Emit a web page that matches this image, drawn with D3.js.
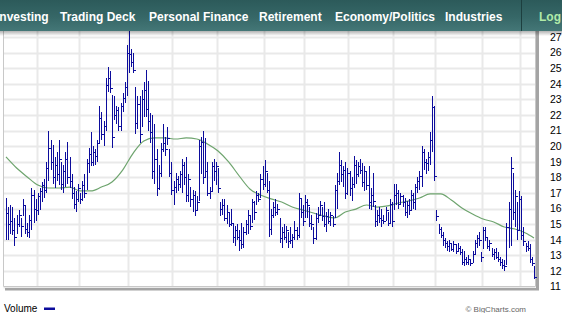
<!DOCTYPE html>
<meta charset="utf-8">
<style>

body {
  margin: 0;
  background: #fff;
}

svg {
  display: block;
  font-family: "Liberation Sans", Arial, sans-serif;
}

.nav text {
  fill: #fff;
  font-size: 12px;
  font-weight: bold;
}

.y-axis text {
  font-size: 10.5px;
  fill: #000;
}

</style>
<svg class="chart"></svg>
<script src="https://cdn.jsdelivr.net/npm/d3@7/dist/d3.min.js"></script>
<script>

// daily bars, one value per trading day
var high = [
  16.7,16.1,16.2,16.1,15.4,15.6,15.9,15.4,16.6,16.2,
  15.1,15.6,17.3,17.2,16.6,17.0,17.3,17.7,17.9,19.0,
  21.0,20.4,20.1,19.3,19.6,20.4,19.0,18.8,19.6,20.3,
  19.3,18.2,17.4,17.1,17.6,17.0,17.8,18.2,19.2,19.9,
  20.9,20.0,19.8,20.4,22.6,22.2,21.6,24.4,25.1,24.8,
  23.3,23.2,22.6,22.5,22.8,23.4,24.1,26.5,27.4,26.2,
  26.0,23.8,23.2,23.2,23.6,24.1,24.9,24.2,22.1,22.0,
  21.4,19.8,18.8,20.2,21.4,20.6,21.2,19.8,19.0,17.8,
  18.3,18.1,18.4,19.2,19.0,19.3,18.2,17.4,17.2,17.1,
  16.8,20.4,20.6,21.0,20.5,19.0,17.4,19.0,19.2,19.0,
  18.6,16.4,16.6,16.6,16.2,15.8,16.0,15.1,14.9,15.0,
  14.6,15.1,14.8,15.3,15.9,15.5,16.6,16.5,17.1,17.0,
  18.2,18.7,19.1,18.3,17.8,16.0,16.4,16.6,16.3,15.4,
  14.8,15.0,14.9,14.5,14.8,14.4,15.2,14.8,17.0,16.6,
  16.2,16.9,16.6,16.1,15.6,14.8,15.7,16.1,16.5,16.1,
  16.4,15.8,16.0,15.8,15.5,17.5,18.3,19.6,19.1,18.7,
  19.0,18.6,18.4,18.0,19.4,19.1,19.0,19.2,18.9,18.7,
  18.4,18.7,17.3,18.3,16.2,15.9,16.1,16.0,15.6,16.1,
  15.8,16.6,16.4,17.6,17.6,17.2,17.0,16.9,16.7,16.5,
  16.6,17.2,17.0,17.6,18.0,18.4,20.0,19.8,19.2,19.6,
  20.9,23.2,22.6,15.9,15.0,14.8,14.5,14.1,13.9,14.0,
  13.8,13.9,13.7,13.8,13.6,13.4,13.3,12.9,13.0,12.8,
  13.3,14.0,14.3,14.5,13.2,14.8,14.8,14.2,14.0,13.5,
  13.4,13.5,13.2,12.9,12.8,12.7,15.1,16.4,19.3,18.3,
  17.2,16.4,17.1,16.8,14.8,13.8,13.9,13.7,12.9,12.3
];

var low = [
  14.0,14.0,14.4,14.3,13.6,14.4,14.8,14.2,15.5,14.4,
  14.2,14.1,14.6,15.1,15.2,15.6,15.9,16.4,16.7,17.0,
  17.8,18.5,17.6,17.3,17.8,17.5,17.2,17.0,17.4,17.6,
  17.3,16.6,16.0,15.8,16.4,16.3,16.5,16.7,17.2,18.3,
  18.7,18.7,18.8,19.0,20.2,20.4,20.0,21.0,23.5,23.4,
  19.9,21.7,21.4,21.0,21.0,22.2,22.8,23.2,24.7,25.1,
  24.7,20.8,21.1,20.2,21.2,21.9,21.9,21.0,20.2,17.9,
  17.6,16.8,17.2,18.0,19.6,19.4,20.1,18.0,16.9,16.2,
  17.0,17.1,17.3,17.0,17.5,16.4,16.4,16.1,15.8,15.5,
  15.9,16.5,18.2,17.6,18.0,16.8,16.6,17.1,17.8,17.5,
  17.0,15.5,15.6,15.2,15.0,14.8,14.9,13.8,13.6,14.0,
  13.3,13.4,13.5,14.3,14.4,14.6,15.1,15.3,16.2,16.4,
  16.7,17.2,17.4,17.0,14.2,14.3,15.4,15.5,15.6,13.8,
  13.5,14.0,13.8,13.5,13.7,13.5,14.0,14.0,14.1,15.4,
  14.9,15.4,15.4,14.8,14.6,13.7,14.0,15.1,15.5,15.2,
  14.8,14.5,15.0,14.9,14.8,15.4,16.0,17.5,17.7,17.4,
  16.6,16.9,16.8,16.5,17.3,17.6,18.0,18.2,17.4,17.1,
  17.2,16.0,15.9,16.1,14.8,14.9,15.1,14.8,15.0,15.2,
  14.9,15.0,14.8,15.9,16.2,16.0,16.2,16.1,15.5,15.4,
  15.6,15.9,16.0,15.9,17.0,17.2,17.4,18.5,18.2,18.4,
  18.8,19.6,17.8,15.2,14.4,14.1,13.6,13.5,13.3,13.2,
  13.3,13.2,13.1,13.2,13.0,12.4,12.3,12.4,12.4,12.3,
  12.5,13.0,13.5,13.6,12.6,13.4,13.9,13.4,13.3,12.9,
  12.7,12.8,12.6,12.3,12.1,12.0,12.4,13.5,13.6,15.3,
  14.8,14.0,14.6,14.0,13.6,13.2,13.3,12.5,12.3,11.5
];

var close = [
  15.7,15.0,15.2,14.6,14.2,15.0,15.6,14.9,16.2,14.7,
  14.5,15.3,16.9,16.0,15.9,16.8,17.1,17.5,17.2,18.6,
  19.9,19.0,18.0,18.8,18.2,19.2,17.6,18.4,19.2,18.0,
  17.8,17.0,16.3,16.6,17.3,16.6,17.5,17.0,18.9,19.5,
  19.0,19.6,19.4,20.2,21.8,20.8,21.3,23.9,24.4,23.7,
  20.6,22.0,22.3,21.3,22.6,23.1,23.8,26.0,25.9,25.4,
  24.9,21.5,22.7,20.8,23.0,23.6,22.4,21.6,20.9,18.4,
  19.2,17.3,18.3,19.8,20.2,19.8,20.5,18.3,17.2,17.4,
  17.9,17.6,18.2,18.8,18.0,16.9,17.9,16.6,16.9,15.9,
  16.4,20.0,20.3,18.0,18.4,17.0,17.1,18.7,18.4,18.7,
  17.3,16.0,16.2,15.4,15.8,15.0,15.1,14.2,14.6,14.2,
  14.0,13.7,14.5,15.0,15.6,14.9,16.4,15.8,16.9,16.6,
  17.9,17.6,18.4,17.2,14.7,15.6,16.1,15.8,16.0,14.1,
  14.5,14.2,14.6,13.9,14.0,14.2,14.6,14.3,16.7,15.8,
  15.2,16.4,16.2,15.1,15.0,14.1,15.4,15.6,16.2,15.5,
  15.0,15.5,15.2,15.6,15.0,17.2,17.8,18.8,18.2,18.5,
  17.0,18.3,17.3,17.6,18.8,18.2,18.7,18.5,17.7,18.4,
  17.5,16.4,16.9,16.5,15.2,15.6,15.4,15.3,15.2,15.9,
  15.1,16.3,15.2,16.9,17.0,16.3,16.8,16.4,15.8,16.2,
  15.9,16.9,16.4,17.4,17.8,18.1,19.6,19.0,18.9,19.3,
  20.4,22.5,18.1,15.5,14.7,14.3,14.0,13.8,13.6,13.8,
  13.4,13.7,13.3,13.5,13.2,12.6,12.8,12.6,12.8,12.5,
  13.1,13.8,14.1,14.0,12.9,14.6,14.2,13.6,13.8,13.1,
  13.2,12.9,12.8,12.6,12.4,12.3,14.8,16.0,18.6,15.8,
  16.8,14.6,16.6,14.3,13.9,13.6,13.5,12.8,12.5,11.6
];

// moving average, read at every 5th trading day
var maIndex = [0,5,10,15,20,25,30,35,40,45,50,55,60,65,70,75,80,85,90,95,
  100,105,110,115,120,125,130,135,140,145,150,155,160,165,170,175,180,185,190,195,
  200,205,210,215,220,225,230,235,240,245,249];
var maValue = [19.31,18.60,18.03,17.51,17.32,17.32,17.38,17.13,17.13,17.38,
  17.71,18.47,19.56,20.33,20.53,20.53,20.46,20.53,20.46,20.14,
  19.69,18.99,18.09,17.26,16.87,16.62,16.42,16.10,15.91,15.72,
  15.53,15.40,15.78,15.97,16.23,16.10,16.17,16.36,16.49,16.68,
  16.94,16.94,16.55,16.04,15.65,15.33,15.14,14.82,14.69,14.44,14.12];

// first trading day of each month (index into the bars)
var monthStarts = [15, 35, 58, 79, 100, 122, 141, 162, 183, 203, 225, 243];

var yTicks = d3.range(11, 28);

var navItems = ["Investing", "Trading Deck", "Personal Finance", "Retirement",
  "Economy/Politics", "Industries"];
var navX = [-4, 60, 149, 259, 335, 445];

var width = 562,
    height = 313;

var plotLeft = 3.5,
    plotRight = 535.5,
    plotTop = 31,
    plotBottom = 286.5;

var x = d3.scaleLinear()
    .domain([0, high.length - 1])
    .range([6, 534]);

var y = d3.scaleLinear()
    .domain([11, 27])
    .range([286.6, 37]);

var svg = d3.select(".chart")
    .attr("width", width)
    .attr("height", height);

svg.append("rect")
    .attr("width", width)
    .attr("height", height)
    .attr("fill", "#fff");

// grid
svg.append("g").selectAll("line")
    .data(yTicks)
  .enter().append("line")
    .attr("x1", plotLeft)
    .attr("x2", plotRight)
    .attr("y1", function(d) { return Math.round(y(d)) + 0.5; })
    .attr("y2", function(d) { return Math.round(y(d)) + 0.5; })
    .attr("stroke", "#e9e9e9")
    .attr("stroke-width", 2);

svg.append("g").selectAll("line")
    .data(monthStarts)
  .enter().append("line")
    .attr("x1", function(d) { return Math.round(x(d - 0.5)) + 0.5; })
    .attr("x2", function(d) { return Math.round(x(d - 0.5)) + 0.5; })
    .attr("y1", plotTop)
    .attr("y2", plotBottom)
    .attr("stroke", "#e9e9e9")
    .attr("stroke-width", 2);

// frame with a drop shadow on the right and bottom
svg.append("rect")
    .attr("x", 536)
    .attr("y", plotTop)
    .attr("width", 3)
    .attr("height", 290 - plotTop)
    .attr("fill", "#a4a4a4");

svg.append("rect")
    .attr("x", 5)
    .attr("y", 288)
    .attr("width", 534)
    .attr("height", 2.5)
    .attr("fill", "#a4a4a4");

svg.append("path")
    .attr("d", "M" + plotLeft + "," + plotTop + "V" + plotBottom + "H" + plotRight + "V" + plotTop)
    .attr("fill", "none")
    .attr("stroke", "#c8c8c8")
    .attr("stroke-width", 1);

// moving average
var ma = maIndex.map(function(d, i) { return [d, maValue[i]]; });

svg.append("path")
    .datum(ma)
    .attr("fill", "none")
    .attr("stroke", "#6ea46e")
    .attr("stroke-width", 1.2)
    .attr("d", d3.line()
        .curve(d3.curveMonotoneX)
        .x(function(d) { return x(d[0]); })
        .y(function(d) { return y(d[1]); }));

// price bars
svg.append("g")
    .attr("shape-rendering", "crispEdges")
  .selectAll("path")
    .data(high)
  .enter().append("path")
    .attr("fill", "none")
    .attr("stroke", "#0c0c9c")
    .attr("d", function(d, i) {
      var px = Math.round(x(i)) + 0.5,
          pc = Math.round(y(close[i])) + 0.5;
      return "M" + px + "," + y(d) + "V" + y(low[i]) +
             "M" + px + "," + pc + "H" + (px + 2);
    });

// y axis on the right
var yAxis = d3.axisRight(y)
    .tickValues(yTicks)
    .tickSize(0)
    .tickPadding(0)
    .tickFormat(d3.format("d"));

svg.append("g")
    .attr("class", "y-axis")
    .attr("transform", "translate(550,0)")
    .call(yAxis)
    .call(function(g) { g.select(".domain").remove(); })
    .selectAll("text")
    .attr("font-family", "Liberation Sans, Arial, sans-serif");

// nav bar
var defs = svg.append("defs");

var navGrad = defs.append("linearGradient")
    .attr("id", "navGrad")
    .attr("x1", 0).attr("y1", 0)
    .attr("x2", 0).attr("y2", 1);
navGrad.append("stop").attr("offset", 0).attr("stop-color", "#2c5a5a");
navGrad.append("stop").attr("offset", 0.55).attr("stop-color", "#366767");
navGrad.append("stop").attr("offset", 1).attr("stop-color", "#447777");

var shadowGrad = defs.append("linearGradient")
    .attr("id", "shadowGrad")
    .attr("x1", 0).attr("y1", 0)
    .attr("x2", 0).attr("y2", 1);
shadowGrad.append("stop").attr("offset", 0).attr("stop-color", "#000").attr("stop-opacity", 0.3);
shadowGrad.append("stop").attr("offset", 1).attr("stop-color", "#000").attr("stop-opacity", 0);

svg.append("rect")
    .attr("x", 0)
    .attr("y", 31)
    .attr("width", width)
    .attr("height", 5)
    .attr("fill", "url(#shadowGrad)");

var nav = svg.append("g")
    .attr("class", "nav");

nav.append("rect")
    .attr("width", width)
    .attr("height", 31)
    .attr("fill", "url(#navGrad)");

nav.append("line")
    .attr("x1", 521.5)
    .attr("x2", 521.5)
    .attr("y1", 0)
    .attr("y2", 31)
    .attr("stroke", "#1d3f3f")
    .attr("stroke-width", 1);

nav.selectAll("text.item")
    .data(navItems)
  .enter().append("text")
    .attr("class", "item")
    .attr("x", function(d, i) { return navX[i]; })
    .attr("y", 21)
    .text(function(d) { return d; });

nav.append("text")
    .attr("x", 539)
    .attr("y", 21)
    .style("fill", "#b0eaa8")
    .text("Log");

// legend and credit
svg.append("text")
    .attr("x", 4)
    .attr("y", 312)
    .attr("font-size", 10)
    .attr("fill", "#000")
    .text("Volume");

svg.append("rect")
    .attr("x", 44)
    .attr("y", 307.5)
    .attr("width", 11)
    .attr("height", 2.5)
    .attr("fill", "#0c0c9c");

svg.append("text")
    .attr("x", 526)
    .attr("y", 312)
    .attr("text-anchor", "end")
    .attr("font-size", 8)
    .attr("fill", "#666")
    .text("\u00a9 BigCharts.com");

</script>
